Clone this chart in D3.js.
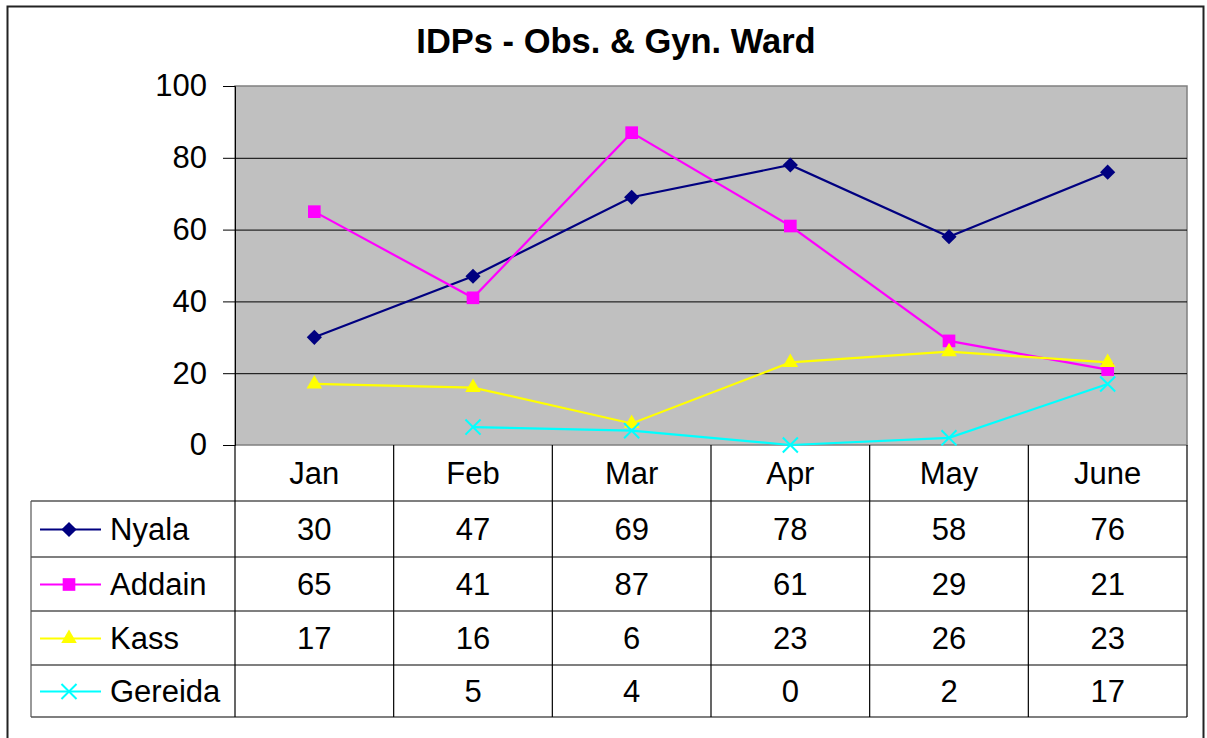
<!DOCTYPE html>
<html>
<head>
<meta charset="utf-8">
<script src="https://d3js.org/d3.v7.min.js"></script>
<style>
  body { margin: 0; background: #fff; }
  svg { font-family: "Liberation Sans", Arial, sans-serif; }
</style>
</head>
<body>
<svg id="chart" width="1207" height="738"></svg>
<script>
  const months = ["Jan", "Feb", "Mar", "Apr", "May", "June"]
  const nyala = [30, 47, 69, 78, 58, 76]
  const addain = [65, 41, 87, 61, 29, 21]
  const kass = [17, 16, 6, 23, 26, 23]
  const gereida = [null, 5, 4, 0, 2, 17]
  const yTicks = [0, 20, 40, 60, 80, 100]

  const series = [
    { name: "Nyala", values: nyala, color: "#000080", symbol: "diamond" },
    { name: "Addain", values: addain, color: "#ff00ff", symbol: "square" },
    { name: "Kass", values: kass, color: "#ffff00", symbol: "triangle" },
    { name: "Gereida", values: gereida, color: "#00ffff", symbol: "x" }
  ]

  const svg = d3.select("#chart")
  const plot = { left: 235, right: 1187, top: 86, bottom: 445 }
  const legendLeft = 31
  const rowH = [56, 56, 54, 54, 52]
  const fs = "31px"

  // outer frame
  svg.append("rect").attr("x", 7.5).attr("y", 6.5).attr("width", 1196).attr("height", 740)
    .attr("fill", "#fff").attr("stroke", "#222").attr("stroke-width", 2)

  svg.append("text")
    .attr("x", 616).attr("y", 53)
    .attr("text-anchor", "middle")
    .style("font-size", "34.5px").style("font-weight", "bold")
    .text("IDPs - Obs. & Gyn. Ward")

  const x = d3.scaleBand().domain(months).range([plot.left, plot.right])
  const y = d3.scaleLinear().domain([0, 100]).range([plot.bottom, plot.top])

  svg.append("rect")
    .attr("x", plot.left).attr("y", plot.top)
    .attr("width", plot.right - plot.left).attr("height", plot.bottom - plot.top)
    .attr("fill", "#c0c0c0").attr("stroke", "#808080").attr("stroke-width", 1.5)

  // gridlines
  svg.append("g").selectAll("line")
    .data(yTicks.filter(t => t > 0 && t < 100)).enter()
    .append("line")
    .attr("x1", plot.left).attr("x2", plot.right)
    .attr("y1", d => y(d) + 0.5).attr("y2", d => y(d) + 0.5)
    .attr("stroke", "#000").attr("stroke-width", 1)

  // y axis
  const yAxis = svg.append("g")
    .attr("transform", "translate(" + plot.left + ",0)")
    .call(d3.axisLeft(y).tickValues(yTicks).tickSize(12).tickPadding(16))
  yAxis.select(".domain").attr("stroke", "#000")
  yAxis.selectAll("text").style("font-size", fs).style("font-family", "Liberation Sans, Arial, sans-serif").attr("fill", "#000")

  // data table grid
  const tableTop = plot.bottom
  const rowY = [tableTop]
  rowH.forEach((h, i) => rowY.push(rowY[i] + h))
  const table = svg.append("g").attr("stroke", "#000").attr("stroke-width", 1.2)
  rowY.forEach((ry, i) => {
    if (i === 0) return
    table.append("line").attr("x1", legendLeft).attr("x2", plot.right)
      .attr("y1", ry).attr("y2", ry)
  })
  const colX = months.map(m => x(m)).concat([plot.right])
  colX.forEach(cx => {
    table.append("line").attr("x1", cx).attr("x2", cx).attr("y1", tableTop).attr("y2", rowY[rowY.length - 1])
  })
  table.append("line").attr("x1", legendLeft).attr("x2", legendLeft).attr("y1", rowY[1]).attr("y2", rowY[rowY.length - 1])
    .attr("stroke", "#555")

  // month headers
  svg.append("g").selectAll("text")
    .data(months).enter()
    .append("text")
    .attr("x", d => x(d) + x.bandwidth() / 2)
    .attr("y", (rowY[0] + rowY[1]) / 2)
    .attr("dy", "0.36em")
    .attr("text-anchor", "middle")
    .style("font-size", fs)
    .text(d => d)

  function drawSymbol(g, s, cx, cy) {
    const t = "translate(" + cx + "," + cy + ")"
    if (s.symbol === "x") {
      g.append("path")
        .attr("d", d3.symbol().type(d3.symbolX).size(150)())
        .attr("transform", t)
        .attr("fill", "none").attr("stroke", s.color).attr("stroke-width", 2)
    } else if (s.symbol === "diamond") {
      g.append("path")
        .attr("d", d3.symbol().type(d3.symbolSquare).size(115)())
        .attr("transform", t + " rotate(45)")
        .attr("fill", s.color)
    } else if (s.symbol === "square") {
      g.append("path")
        .attr("d", d3.symbol().type(d3.symbolSquare).size(160)())
        .attr("transform", t)
        .attr("fill", s.color)
    } else {
      g.append("path")
        .attr("d", d3.symbol().type(d3.symbolTriangle).size(105)())
        .attr("transform", t)
        .attr("fill", s.color)
    }
  }

  // table rows with legend keys
  series.forEach((s, i) => {
    const cy = (rowY[i + 1] + rowY[i + 2]) / 2
    const g = svg.append("g")
    g.append("line").attr("x1", 40).attr("x2", 101).attr("y1", cy + 0.5).attr("y2", cy + 0.5)
      .attr("stroke", s.color).attr("stroke-width", 2)
    drawSymbol(g, s, 69, cy + 0.5)
    g.append("text").attr("x", 110).attr("y", cy).attr("dy", "0.36em")
      .style("font-size", fs).text(s.name)
    g.selectAll(".val")
      .data(s.values).enter()
      .append("text")
      .attr("x", (d, j) => x(months[j]) + x.bandwidth() / 2)
      .attr("y", cy).attr("dy", "0.36em")
      .attr("text-anchor", "middle")
      .style("font-size", fs)
      .text(d => d === null ? "" : d)
  })

  // lines
  const line = d3.line()
    .defined(d => d.v !== null)
    .x(d => x(d.m) + x.bandwidth() / 2)
    .y(d => y(d.v))

  series.forEach(s => {
    const pts = s.values.map((v, j) => ({ m: months[j], v: v }))
    svg.append("path")
      .datum(pts)
      .attr("fill", "none")
      .attr("stroke", s.color)
      .attr("stroke-width", 2.2)
      .attr("d", line)
    const g = svg.append("g")
    pts.filter(p => p.v !== null).forEach(p => {
      drawSymbol(g, s, x(p.m) + x.bandwidth() / 2, y(p.v))
    })
  })
</script>
</body>
</html>
